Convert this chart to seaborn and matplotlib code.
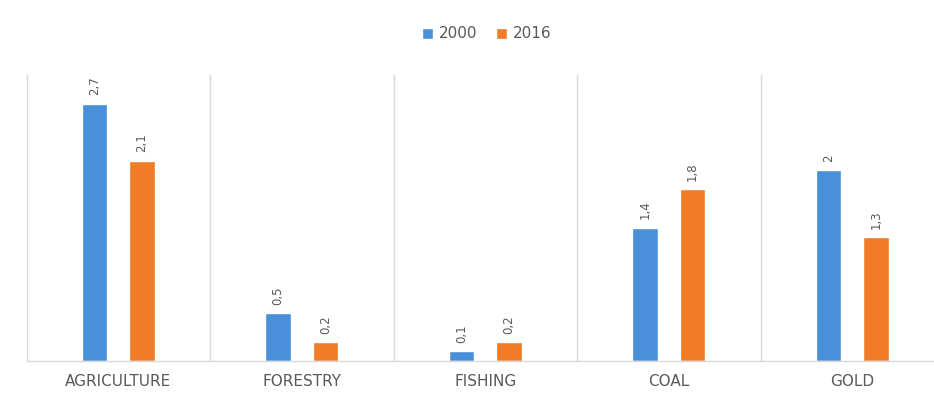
import matplotlib
matplotlib.use("Agg")
import matplotlib.pyplot as plt
import seaborn as sns
import pandas as pd

# Data
categories = ["AGRICULTURE", "FORESTRY", "FISHING", "COAL", "GOLD"]
values_2000 = [2.7, 0.5, 0.1, 1.4, 2.0]
values_2016 = [2.1, 0.2, 0.2, 1.8, 1.3]
years = ["2000", "2016"]

colors = ["#4A90D9", "#F07C27"]
text_gray = "#595959"
line_gray = "#D9D9D9"

df = pd.DataFrame({
    "sector": categories * 2,
    "year": [years[0]] * len(categories) + [years[1]] * len(categories),
    "value": values_2000 + values_2016,
})

sns.set_theme(style="white")
plt.rcParams["font.family"] = ["DejaVu Sans"]

fig = plt.figure(figsize=(9.34, 3.94), dpi=100)
ax = fig.add_axes([26.5 / 934, 33 / 394, 917.5 / 934, 286 / 394])

sns.barplot(data=df, x="sector", y="value", hue="year", order=categories,
            hue_order=years, palette=colors, width=0.52, gap=0.46,
            saturation=1, ax=ax, legend=True)

ax.set_xlim(-0.5, len(categories) - 0.5)
ax.set_ylim(0, 3.0)

# vertical separators between categories
for i in range(len(categories) - 1):
    ax.axvline(i + 0.5, color=line_gray, lw=1, zorder=0)

for side in ["top", "right"]:
    ax.spines[side].set_visible(False)
for side in ["left", "bottom"]:
    ax.spines[side].set_color(line_gray)
    ax.spines[side].set_linewidth(1)

ax.set_yticks([])
ax.set_xlabel("")
ax.set_ylabel("")
ax.tick_params(axis="x", length=0, pad=9, labelsize=11, labelcolor=text_gray)

# value labels above bars, decimal comma
def fmt(v):
    s = f"{v:g}"
    return s.replace(".", ",")

for cont, vals in zip(ax.containers, [values_2000, values_2016]):
    ax.bar_label(cont, labels=[fmt(v) for v in vals], rotation=90,
                 padding=6, fontsize=8.5, color=text_gray)

leg = ax.legend(loc="center", bbox_to_anchor=(487 / 934, 1 - 34 / 394),
                bbox_transform=fig.transFigure, ncol=2, frameon=False,
                handlelength=0.7, handleheight=0.7, handletextpad=0.4,
                columnspacing=1.2, fontsize=11)
for t in leg.get_texts():
    t.set_color(text_gray)

fig.savefig("out.png", dpi=100)
